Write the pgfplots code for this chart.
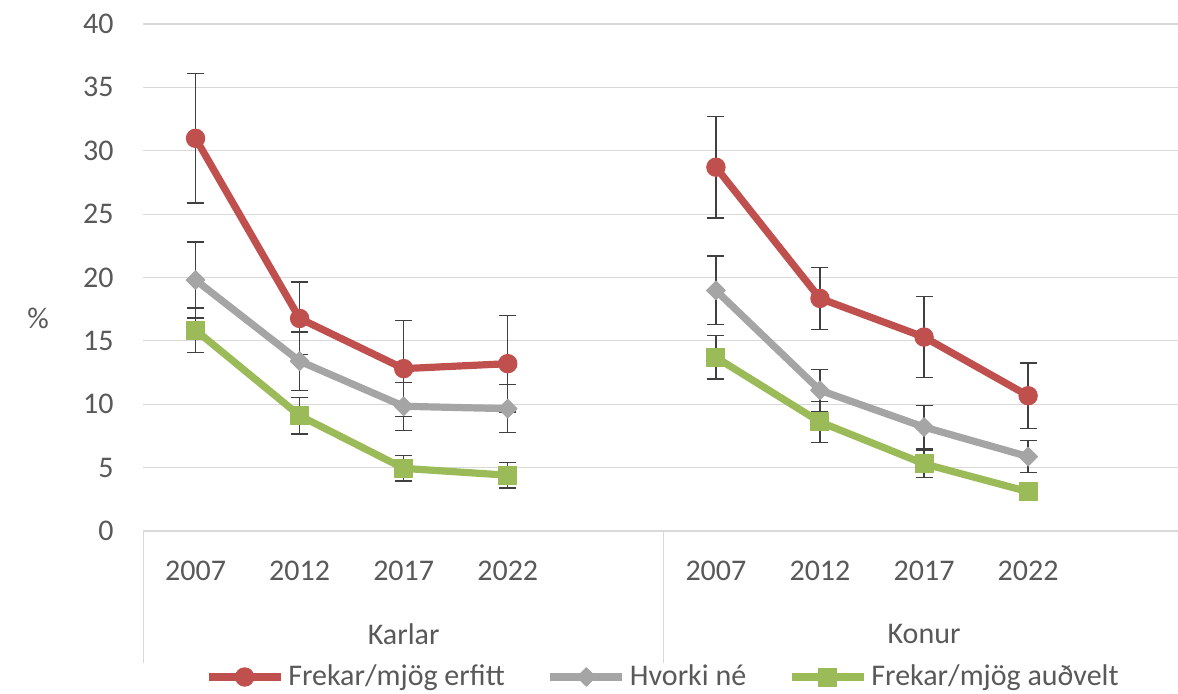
\documentclass[border=0pt]{standalone}
\usepackage{pgfplots}
\pgfplotsset{compat=1.18}
\usepackage{pgfplotstable}
\usepackage{fontspec}
\setmainfont{Carlito}
\usetikzlibrary{calc}
\definecolor{cred}{HTML}{C0504D}
\definecolor{cgray}{HTML}{A5A5A5}
\definecolor{cgreen}{HTML}{9BBB59}
\definecolor{gridc}{HTML}{D9D9D9}
\definecolor{txt}{HTML}{595959}
\definecolor{errc}{HTML}{404040}

% x: 0-3 Karlar 2007..2022, 5-8 Konur 2007..2022
\pgfplotstableread{
x y e
0 30.98 5.10
1 16.77 2.86
2 12.81 3.80
3 13.20 3.80
5 28.70 4.00
6 18.35 2.45
7 15.30 3.20
8 10.67 2.57
}\tred
\pgfplotstableread{
x y e
0 19.80 3.00
1 13.40 2.30
2 9.84 1.89
3 9.65 1.90
5 18.98 2.70
6 11.10 1.65
7 8.20 1.70
8 5.87 1.27
}\tgray
\pgfplotstableread{
x y e
0 15.85 1.75
1 9.10 1.45
2 4.94 1.00
3 4.40 1.00
5 13.70 1.70
6 8.60 1.60
7 5.30 1.10
8 3.10 0.60
}\tgreen

\begin{document}
\begin{tikzpicture}
\begin{axis}[
  name=ax,
  scale only axis,
  width=517.25pt, height=253.5pt,
  xmin=-0.5, xmax=9.44,
  ymin=0, ymax=40,
  xtick={0,1,2,3,5,6,7,8},
  xticklabels={2007,2012,2017,2022,2007,2012,2017,2022},
  ytick={0,5,...,40},
  ymajorgrids,
  grid style={draw=gridc, line width=0.6pt},
  axis line style={draw=none},
  tick style={draw=none},
  clip=false,
  /pgf/number format/assume math mode=true,
  ticklabel style={font=\fontsize{15}{18}\selectfont, text=txt},
  yticklabel style={anchor=east, inner sep=0pt, xshift=-14.75pt},
  xticklabel style={anchor=center, inner sep=0pt, yshift=-20pt},
  legend columns=3,
  legend cell align=left,
  legend style={draw=none, fill=none, at={(0.503,-0.288)}, anchor=center,
    font=\fontsize{15}{18}\selectfont, text=txt,
    /tikz/every even column/.append style={column sep=19pt}},
  legend image code/.code={\draw[mark repeat=2,mark phase=2,#1] plot coordinates {(0pt,0pt) (18pt,0pt) (36pt,0pt)};},
  every axis plot/.append style={line width=3.6pt, line join=round},
  error bars/y dir=both,
  error bars/y explicit,
  error bars/error bar style={line width=0.7pt, draw=errc, solid},
  error bars/error mark options={line width=0.7pt, draw=errc, mark size=4.25pt, rotate=90},
]
\addplot[cred, mark=*, mark size=4.6pt, mark options={solid, fill=cred, draw=cred, line width=0.5pt},
  skip coords between index={4}{8}]
  table[x=x, y=y, y error=e] {\tred};
\addlegendentry{Frekar/mjög erfitt}
\addplot[cred, mark=*, mark size=4.6pt, mark options={solid, fill=cred, draw=cred, line width=0.5pt},
  skip coords between index={0}{4}, forget plot]
  table[x=x, y=y, y error=e] {\tred};

\addplot[cgray, mark=square*, mark size=3.3pt, mark options={solid, rotate=45, fill=cgray, draw=cgray, line width=0.5pt},
  skip coords between index={4}{8}]
  table[x=x, y=y, y error=e] {\tgray};
\addlegendentry{Hvorki né}
\addplot[cgray, mark=square*, mark size=3.3pt, mark options={solid, rotate=45, fill=cgray, draw=cgray, line width=0.5pt},
  skip coords between index={0}{4}, forget plot]
  table[x=x, y=y, y error=e] {\tgray};

\addplot[cgreen, mark=square*, mark size=4.5pt, mark options={solid, fill=cgreen, draw=cgreen, line width=0.5pt},
  skip coords between index={4}{8}]
  table[x=x, y=y, y error=e] {\tgreen};
\addlegendentry{Frekar/mjög auðvelt}
\addplot[cgreen, mark=square*, mark size=4.5pt, mark options={solid, fill=cgreen, draw=cgreen, line width=0.5pt},
  skip coords between index={0}{4}, forget plot]
  table[x=x, y=y, y error=e] {\tgreen};

\draw[gridc, line width=0.6pt] (axis cs:-0.5,0) -- ++(0pt,-66pt);
\draw[gridc, line width=0.6pt] (axis cs:4.5,0) -- ++(0pt,-66pt);
\node[font=\fontsize{15}{18}\selectfont, text=txt, yshift=-51.5pt] at (axis cs:2,0) {Karlar};
\node[font=\fontsize{15}{18}\selectfont, text=txt, yshift=-51.5pt] at (axis cs:7,0) {Konur};
\node[font=\fontsize{15}{18}\selectfont, text=txt, xshift=-52.75pt] at (rel axis cs:0,0.42) {\%};
\end{axis}
\pgfresetboundingbox
\path[use as bounding box] ($(ax.south west)+(-71.75pt,-81.5pt)$) rectangle ($(ax.north east)+(0pt,12pt)$);
\end{tikzpicture}
\end{document}
